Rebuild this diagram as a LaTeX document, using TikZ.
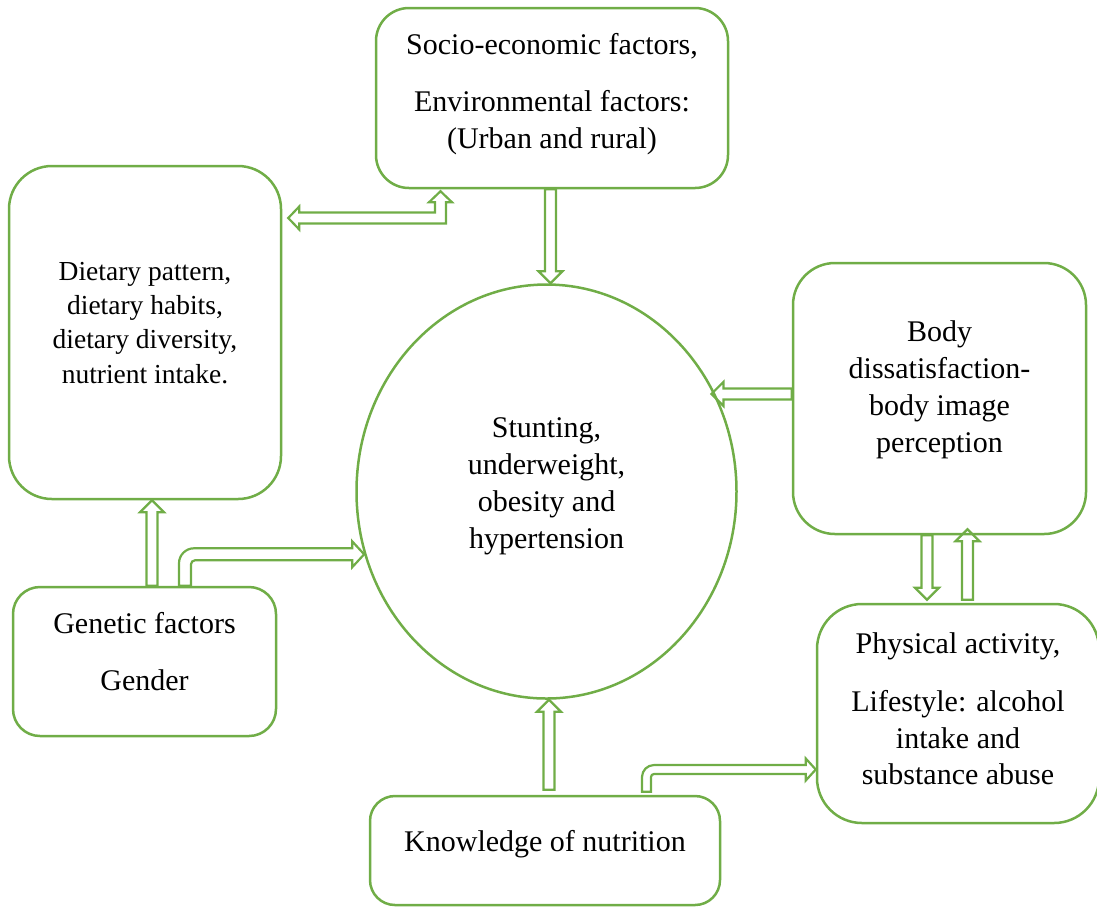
\documentclass[tikz,border=0pt]{standalone}
\usepackage{fontspec}
\setmainfont{Liberation Serif}
\usetikzlibrary{calc,shapes.geometric}
\definecolor{lgreen}{HTML}{70AD47}
\tikzset{
  box/.style={draw=lgreen, line width=1.25pt, align=center, inner sep=0pt,
    font=\fontsize{15}{18.5}\selectfont},
  blk/.style={draw=lgreen, line width=1.1pt, line join=miter},
}
% straight hollow block arrows: #1 tail, #2 tip, #3 direction (1 down/right, -1 up/left)
\newcommand\vblk[3]{%
  \draw[blk] ($(#1)+(-5.5,0)$) -- ($(#2)+(-5.5,{-12*(#3)})$) -- ($(#2)+(-12,{-12*(#3)})$) -- (#2)
    -- ($(#2)+(12,{-12*(#3)})$) -- ($(#2)+(5.5,{-12*(#3)})$) -- ($(#1)+(5.5,0)$) -- cycle;}
\newcommand\hblk[3]{%
  \draw[blk] ($(#1)+(0,-5.5)$) -- ($(#2)+({-12*(#3)},-5.5)$) -- ($(#2)+({-12*(#3)},-12)$) -- (#2)
    -- ($(#2)+({-12*(#3)},12)$) -- ($(#2)+({-12*(#3)},5.5)$) -- ($(#1)+(0,5.5)$) -- cycle;}
\begin{document}
\begin{tikzpicture}[x=0.5pt,y=-0.5pt]
\useasboundingbox (0,0) rectangle (1097,907);

\node[box, rounded corners=16.5pt, minimum width=176pt, minimum height=90pt] (top) at (552,98)
  {Socio-economic factors,\\[10pt] Environmental factors:\\ (Urban and rural)\rule[-7pt]{0pt}{0pt}};
\node[box, rounded corners=21.5pt, minimum width=136pt, minimum height=166.5pt,
  font=\fontsize{13.75}{17.15}\selectfont] (diet) at (145,332.5)
  {Dietary pattern,\\ dietary habits,\\ dietary diversity,\\ nutrient intake.\rule[-10pt]{0pt}{0pt}};
\node[box, rounded corners=21pt, minimum width=146.5pt, minimum height=135.5pt,
  font=\fontsize{15}{18.6}\selectfont] (body) at (939.5,398.5)
  {Body\\ dissatisfaction-\\ body image\\ perception\rule[-11.8pt]{0pt}{0pt}};
\node[box, rounded corners=13.5pt, minimum width=131.5pt, minimum height=74.5pt] (gen) at (144.5,661.5)
  {Genetic factors\\[9.8pt] Gender\rule[-10pt]{0pt}{0pt}};
\node[box, rounded corners=22.5pt, minimum width=141pt, minimum height=109.5pt,
  font=\fontsize{15}{18.35}\selectfont] (phys) at (958,713.5)
  {Physical activity,\\[10.8pt] Lifestyle: alcohol\\ intake and\\ substance abuse\rule[-5pt]{0pt}{0pt}};
\node[box, rounded corners=12.5pt, minimum width=175pt, minimum height=54.5pt] (know) at (545,850.5)
  {Knowledge of nutrition\rule[-10pt]{0pt}{0pt}};
\node[box, ellipse, minimum width=190pt, minimum height=207pt] (ell) at (546.5,491.5)
  {Stunting,\\ underweight,\\ obesity and\\ hypertension\rule[-8.5pt]{0pt}{0pt}};

% helper positions
\coordinate (xA) at (550.5,0);
\coordinate (xB) at (152,0);
\coordinate (xD1) at (927,0);
\coordinate (xD2) at (967.5,0);
\coordinate (xE) at (549,0);
\coordinate (xF) at (440.5,0);
\coordinate (yF) at (0,218);
\coordinate (xG) at (185,0);
\coordinate (xH) at (646.5,0);
\coordinate (yH) at (0,769.5);

% arrow end points
\coordinate (A1) at (top.south -| xA);
\coordinate (A2) at (ell.north -| xA);
\coordinate (B1) at (gen.north -| xB);
\coordinate (B2) at (diet.south -| xB);
\coordinate (C2) at ($(ell.30)+(-4,0)$);
\coordinate (C1) at (body.west |- C2);
\coordinate (D1) at (body.south -| xD1);
\coordinate (D2) at ($(phys.north -| xD1)+(0,-3)$);
\coordinate (D3) at ($(phys.north -| xD2)+(0,-3)$);
\coordinate (D4) at ($(body.south -| xD2)+(0,-6)$);
\coordinate (E1) at ($(know.north -| xE)+(0,-5)$);
\coordinate (E2) at (ell.south -| xE);
\coordinate (F1) at ($(top.south -| xF)+(0,2)$);
\coordinate (F2) at ($(diet.east |- yF)+(6,0)$);
\coordinate (K1) at (F1 |- F2);
\coordinate (G1) at (gen.north -| xG);
\coordinate (G2) at (ell.199);
\coordinate (K2) at (G1 |- G2);
\coordinate (H1) at ($(know.north -| xH)+(0,-3)$);
\coordinate (H2) at (phys.west |- yH);
\coordinate (K3) at (H1 |- H2);

% straight arrows
\vblk{A1}{A2}{1}
\vblk{B1}{B2}{-1}
\hblk{C1}{C2}{-1}
\vblk{D1}{D2}{1}
\vblk{D3}{D4}{-1}
\vblk{E1}{E2}{-1}

% bent double-headed arrow between top box and dietary box
\draw[blk] (F2) -- ($(F2)+(11,-11.5)$) -- ($(F2)+(11,-5.5)$) -- ($(K1)+(-5.5,-5.5)$)
  -- ($(F1)+(-5.5,11)$) -- ($(F1)+(-11.5,11)$) -- (F1) -- ($(F1)+(11.5,11)$) -- ($(F1)+(5.5,11)$)
  -- ($(K1)+(5.5,5.5)$) -- ($(F2)+(11,5.5)$) -- ($(F2)+(11,11.5)$) -- cycle;

% bent arrow genetic -> ellipse
\draw[blk] ($(G1)+(-6,0)$) -- ($(K2)+(-6,9)$)
  .. controls ($(K2)+(-6,0.7)$) and ($(K2)+(0.7,-6)$) .. ($(K2)+(9,-6)$)
  -- ($(G2)+(-12,-6)$) -- ($(G2)+(-12,-13)$) -- (G2) -- ($(G2)+(-12,13)$) -- ($(G2)+(-12,6)$)
  -- ($(K2)+(10,6)$) .. controls ($(K2)+(7.8,6)$) and ($(K2)+(6,7.8)$) .. ($(K2)+(6,10)$)
  -- ($(G1)+(6,0)$) -- cycle;

% bent arrow knowledge -> physical activity
\draw[blk] ($(H1)+(-4.5,0)$) -- ($(K3)+(-4.5,7.5)$)
  .. controls ($(K3)+(-4.5,0.9)$) and ($(K3)+(0.9,-4.5)$) .. ($(K3)+(7.5,-4.5)$)
  -- ($(H2)+(-10,-4.5)$) -- ($(H2)+(-10,-11)$) -- (H2) -- ($(H2)+(-10,11)$) -- ($(H2)+(-10,4.5)$)
  -- ($(K3)+(7.5,4.5)$) .. controls ($(K3)+(5.85,4.5)$) and ($(K3)+(4.5,5.85)$) .. ($(K3)+(4.5,7.5)$)
  -- ($(H1)+(4.5,0)$) -- cycle;
\end{tikzpicture}
\end{document}
